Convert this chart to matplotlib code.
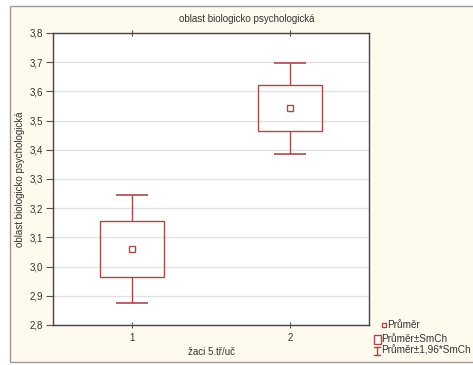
import matplotlib
matplotlib.use("Agg")
import matplotlib.pyplot as plt
from matplotlib.patches import Rectangle
from matplotlib.lines import Line2D

plt.rcParams['font.family'] = ['Liberation Sans', 'DejaVu Sans']

# data
groups = [1, 2]
means = [3.060, 3.542]
se = [0.095, 0.079]
ci_factor = 1.96
yticks = [2.8, 2.9, 3.0, 3.1, 3.2, 3.3, 3.4, 3.5, 3.6, 3.7, 3.8]
ytick_labels = ["2,8", "2,9", "3,0", "3,1", "3,2", "3,3", "3,4", "3,5", "3,6", "3,7", "3,8"]
title = "oblast biologicko psychologická"
xlabel = "žaci 5.tř/uč"
ylabel = "oblast biologicko psychologická"
legend_labels = ["Průměr", "Průměr±SmCh", "Průměr±1,96*SmCh"]

W, H = 473, 365
fig = plt.figure(figsize=(W / 100, H / 100), dpi=100, facecolor="white")

RED = "#a94a4a"
TXT = "#333333"
BG = "#fff9ee"

# outer frame
fig.add_artist(Rectangle((9.5 / W, 1 - 361.5 / H), 2.0, (361.5 - 5.5) / H,
                         transform=fig.transFigure, facecolor=BG,
                         edgecolor="#9a9a9a", linewidth=1.0, zorder=0))

l, r, t, b = 53, 369, 33, 325
ax = fig.add_axes([l / W, 1 - b / H, (r - l) / W, (b - t) / H])
ax.set_facecolor("white")

box_w = 0.4
cap_w = 0.2
for g, m, s in zip(groups, means, se):
    ax.add_patch(Rectangle((g - box_w / 2, m - s), box_w, 2 * s,
                           facecolor="none", edgecolor=RED, linewidth=1.0, zorder=3))
    ax.vlines(g, m + s, m + ci_factor * s, color=RED, linewidth=1.0, zorder=3)
    ax.vlines(g, m - ci_factor * s, m - s, color=RED, linewidth=1.0, zorder=3)
    ax.hlines([m + ci_factor * s, m - ci_factor * s], g - cap_w / 2, g + cap_w / 2,
              color=RED, linewidth=1.2, zorder=3)
ax.plot(groups, means, linestyle="none", marker="s", markersize=4,
        markerfacecolor="white", markeredgecolor=RED, markeredgewidth=1.0, zorder=4)

ax.set_xlim(0.5, 2.5)
ax.set_ylim(2.8, 3.8)
ax.set_yticks(yticks)
ax.set_yticklabels(ytick_labels)
ax.set_xticks(groups)
ax.set_xticklabels([str(g) for g in groups])
ax.yaxis.grid(True, color="#e2e2e2", linewidth=1.0)
ax.set_axisbelow(True)
ax.tick_params(axis="y", direction="out", length=5, width=0.8, color="#555555",
               labelsize=7, labelcolor=TXT, pad=2)
ax.tick_params(axis="x", direction="inout", length=4, width=0.8, color="#555555",
               labelsize=7, labelcolor=TXT, top=True, pad=4)
for sp in ax.spines.values():
    sp.set_color("#444444")
    sp.set_linewidth(1.0)

fig.text(247 / W, 1 - 19 / H, title, ha="center", va="center", fontsize=7, color=TXT)
fig.text(211 / W, 1 - 352 / H, xlabel, ha="center", va="center", fontsize=7, color=TXT)
fig.text(20 / W, 1 - 179 / H, ylabel, ha="center", va="center", rotation=90,
         fontsize=7, color=TXT)

# legend (manual)
fig.add_artist(Line2D([384 / W], [1 - 325 / H], marker="s", markersize=3.5,
                      markerfacecolor="white", markeredgecolor=RED,
                      markeredgewidth=1.0, linestyle="none", transform=fig.transFigure))
fig.add_artist(Rectangle((373.5 / W, 1 - 343.5 / H), 7 / W, 9 / H, transform=fig.transFigure,
                         facecolor="white", edgecolor=RED, linewidth=1.0))
fig.add_artist(Line2D([376.5 / W, 376.5 / W], [1 - 346.5 / H, 1 - 354.5 / H],
                      color=RED, linewidth=1.0, transform=fig.transFigure))
for yy in (346.5, 354.5):
    fig.add_artist(Line2D([373.5 / W, 380 / W], [1 - yy / H, 1 - yy / H],
                          color=RED, linewidth=1.0, transform=fig.transFigure))
for x0, y0, lab in zip([387, 381.5, 381.5], [325, 339, 350.5], legend_labels):
    fig.text(x0 / W, 1 - y0 / H, lab, ha="left", va="center", fontsize=7.2, color=TXT)

fig.savefig("out.png", dpi=100, facecolor="white")
